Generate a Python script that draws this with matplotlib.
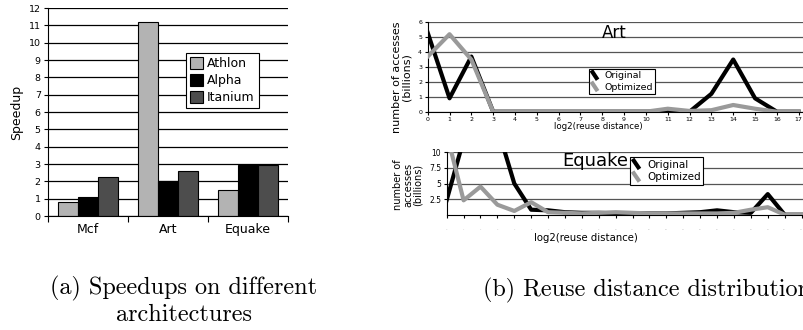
"""
plot.py
Speedups per architecture and reuse distance distributions.
"""

import matplotlib.pyplot as plt
from matplotlib.legend_handler import HandlerBase
from matplotlib.lines import Line2D
import numpy as np

# speedup chart
benchmarks = ['Mcf', 'Art', 'Equake']
athlon = [0.8, 11.2, 1.5]
alpha = [1.1, 2.0, 2.97]
itanium = [2.27, 2.62, 2.93]

# reuse distance, Art
art_x = list(range(18))
art_original = [5.3, 0.9, 3.7, 0, 0, 0, 0, 0, 0, 0, 0, 0, 0, 1.2, 3.5, 0.9, 0, 0]
art_optimized = [3.7, 5.2, 3.5, 0, 0, 0, 0, 0, 0, 0, 0, 0.2, 0.05, 0.1, 0.45, 0.2, 0, 0]

# reuse distance, Equake
eq_x = list(range(22))
eq_original = [2.35, 12, 16, 14, 5.0, 0.8, 0.7, 0.4, 0.3, 0.3, 0.2, 0.2, 0.2, 0.2,
               0.3, 0.4, 0.7, 0.4, 0.3, 3.3, 0, 0]
eq_optimized = [13, 2.3, 4.5, 1.6, 0.6, 2.0, 0.4, 0.3, 0.2, 0.3, 0.4, 0.3, 0.2, 0.2,
                0.2, 0.2, 0.2, 0.3, 0.8, 1.2, 0, 0]

W, H = 804, 330


def box(left, top, right, bottom):
    """pixel box -> figure fraction rect"""
    return [left / W, 1 - bottom / H, (right - left) / W, (bottom - top) / H]


def px(x, y):
    return x / W, 1 - y / H


class DiagHandler(HandlerBase):
    """Excel style slanted line in the legend"""
    def create_artists(self, legend, orig_handle, xdescent, ydescent,
                       width, height, fontsize, trans):
        line = Line2D([0, width * 0.55], [height + 1, -1],
                      color=orig_handle.get_color(), lw=orig_handle.get_linewidth(),
                      solid_capstyle='butt', transform=trans)
        return [line]


fig = plt.figure(figsize=(W / 100, H / 100), dpi=100)

# ---- (a) speedups ----
ax1 = fig.add_axes(box(47.7, 8, 288.3, 216))
pos = np.arange(len(benchmarks))
bw = 0.25
ax1.bar(pos - bw, athlon, bw, color='#b3b3b3', edgecolor='black', lw=0.8, label='Athlon', zorder=2)
ax1.bar(pos, alpha, bw, color='black', edgecolor='black', lw=0.8, label='Alpha', zorder=2)
ax1.bar(pos + bw, itanium, bw, color='#4d4d4d', edgecolor='black', lw=0.8, label='Itanium', zorder=2)
ax1.set_xlim(-0.5, 2.5)
ax1.set_ylim(0, 12)
ax1.set_yticks(range(13))
ax1.yaxis.grid(True, color='black', lw=0.9)
ax1.set_axisbelow(True)
ax1.set_xticks([-0.5, 0.5, 1.5, 2.5])
ax1.set_xticklabels([])
ax1.set_xticks(pos, minor=True)
ax1.set_xticklabels(benchmarks, minor=True, fontsize=9)
ax1.tick_params(axis='x', which='major', length=4, direction='out')
ax1.tick_params(axis='x', which='minor', length=0, pad=5)
ax1.tick_params(axis='y', labelsize=6.8, length=3, pad=2)
ax1.spines['top'].set_visible(False)
ax1.spines['right'].set_visible(False)
ax1.set_ylabel('Speedup', fontsize=9, labelpad=4)
leg = ax1.legend(loc='upper left', bbox_to_anchor=px(186, 53), bbox_transform=fig.transFigure,
                 fontsize=9, fancybox=False, framealpha=1, edgecolor='black',
                 handlelength=1.1, handleheight=1.1, handletextpad=0.3,
                 borderpad=0.3, labelspacing=0.3, borderaxespad=0)
leg.get_frame().set_linewidth(0.8)

# ---- (b) Art ----
ax2 = fig.add_axes(box(427.7, 22.3, 809.6, 111.7))
ax2.plot(art_x, art_original, color='black', lw=3, label='Original', zorder=3)
ax2.plot(art_x, art_optimized, color='#9a9a9a', lw=3, label='Optimized', zorder=4)
ax2.set_xlim(0, 17.5)
ax2.set_ylim(0, 6)
ax2.set_xticks(art_x)
ax2.set_yticks(range(7))
ax2.yaxis.grid(True, color='#555555', lw=0.9)
ax2.tick_params(labelsize=4.5, length=2, pad=2)
ax2.spines['top'].set_visible(False)
ax2.spines['right'].set_visible(False)
fig.text(*px(614, 33), 'Art', fontsize=12, ha='center', va='center')
fig.text(*px(402, 77), 'number of accesses\n(billions)', fontsize=8, rotation=90,
         ha='center', va='center', linespacing=1.0)
fig.text(*px(598, 127), 'log2(reuse distance)', fontsize=6.2, ha='center', va='center')
leg2 = ax2.legend(loc='upper left', bbox_to_anchor=px(589, 69), bbox_transform=fig.transFigure,
                  fontsize=6.8, fancybox=False, framealpha=1, edgecolor='black',
                  handlelength=1.2, handletextpad=0.2, borderpad=0.25, labelspacing=0.25,
                  borderaxespad=0, handler_map={Line2D: DiagHandler()})
leg2.get_frame().set_linewidth(0.8)

# ---- (b) Equake ----
ax3 = fig.add_axes(box(446.7, 152.3, 810, 214.7))
ax3.plot(eq_x, eq_original, color='black', lw=3, label='Original', zorder=3)
ax3.plot(eq_x, eq_optimized, color='#9a9a9a', lw=3, label='Optimized', zorder=4)
ax3.set_xlim(0, 21.5)
ax3.set_ylim(0, 10)
ax3.set_yticks([2.5, 5, 7.5, 10])
ax3.set_yticklabels(['2.5', '5', '7.5', '10'])
ax3.set_xticks(eq_x)
ax3.set_xticklabels([str(v) for v in eq_x], fontsize=1.5, color='#bbbbbb')
ax3.yaxis.grid(True, color='#555555', lw=0.9)
ax3.tick_params(axis='y', labelsize=5.5, length=2, pad=2)
ax3.tick_params(axis='x', length=2.5, pad=8)
ax3.spines['top'].set_visible(False)
ax3.spines['right'].set_visible(False)
fig.text(*px(595, 161), 'Equake', fontsize=13, ha='center', va='center')
fig.text(*px(408, 185), 'number of\naccesses\n(billions)', fontsize=7, rotation=90,
         ha='center', va='center', linespacing=1.0)
fig.text(*px(586, 238), 'log2(reuse distance)', fontsize=7.3, ha='center', va='center')
leg3 = ax3.legend(loc='upper left', bbox_to_anchor=px(630, 157), bbox_transform=fig.transFigure,
                  fontsize=7.5, fancybox=False, framealpha=1, edgecolor='black',
                  handlelength=1.2, handletextpad=0.2, borderpad=0.25, labelspacing=0.25,
                  borderaxespad=0, handler_map={Line2D: DiagHandler()})
leg3.get_frame().set_linewidth(0.8)

# ---- captions ----
fig.text(*px(184, 301), '(a) Speedups on different\narchitectures', fontsize=17.4,
         family='cmr10', ha='center', va='center', linespacing=1.12)
fig.text(*px(483, 290), '(b) Reuse distance distribution', fontsize=17.4,
         family='cmr10', ha='left', va='center')

fig.savefig('out.png', dpi=100)
